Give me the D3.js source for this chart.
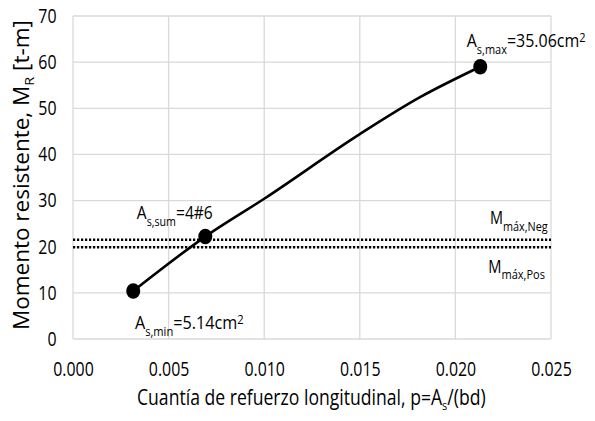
<!DOCTYPE html>
<html>
<head>
<meta charset="utf-8">
<script src="https://cdn.jsdelivr.net/npm/d3@7"></script>
<style>
  html, body { margin: 0; padding: 0; background: #fff; }
  svg { display: block; }
  text { font-family: "Open Sans", "Noto Sans", sans-serif; fill: #000; }
</style>
</head>
<body>
<svg id="chart" width="595" height="421"></svg>
<script>
// Resisting moment curve vs. longitudinal reinforcement ratio
const curveRho    = [0.00315, 0.00692, 0.0100, 0.0150, 0.01815, 0.0213];
const curveMoment = [10.4, 22.2, 30.4, 44.4, 52.4, 59.0];

// Highlighted steel areas
const markerLabels = ["As,min", "As,sum", "As,max"];
const markerRho    = [0.00315, 0.00692, 0.0213];
const markerMoment = [10.4, 22.2, 59.0];

// Demand moments (horizontal reference lines)
const demandNames  = ["Neg", "Pos"];
const demandValues = [21.5, 19.9];

const xTicks = [0, 0.005, 0.010, 0.015, 0.020, 0.025];
const yTicks = [0, 10, 20, 30, 40, 50, 60, 70];

const svg = d3.select("#chart");
const plotL = 73, plotR = 551, plotT = 16, plotB = 339;

const x = d3.scaleLinear().domain([0, 0.025]).range([plotL, plotR]);
const y = d3.scaleLinear().domain([0, 70]).range([plotB, plotT]);

// Gridlines
const grid = svg.append("g");
grid.selectAll("line.h").data(yTicks).join("line")
  .attr("x1", plotL).attr("x2", plotR)
  .attr("y1", d => y(d)).attr("y2", d => y(d))
  .attr("stroke", "#d9d9d9").attr("stroke-width", 1.3);
grid.selectAll("line.v").data(xTicks).join("line")
  .attr("y1", plotT).attr("y2", plotB)
  .attr("x1", d => x(d)).attr("x2", d => x(d))
  .attr("stroke", "#d9d9d9").attr("stroke-width", 1.3);

// Narrow lettering: text is squeezed horizontally to a given width
function label(px, py, parts, opt) {
  const g = svg.append("g")
    .attr("transform", `translate(${px},${py})` + (opt.rotate ? ` rotate(${opt.rotate})` : ""));
  const t = g.append("text").attr("font-size", opt.size);
  parts.forEach(p => {
    const s = t.append("tspan").text(p.t);
    if (p.size) s.attr("font-size", p.size);
    if (p.dy) s.attr("dy", p.dy);
  });
  const w = t.node().getBBox().width;
  const sx = opt.width ? opt.width / w : (opt.sx || 1);
  const off = opt.anchor === "end" ? -w : opt.anchor === "middle" ? -w / 2 : 0;
  t.attr("transform", `scale(${sx},1) translate(${off},0)`);
  return t;
}

// Tick labels share one horizontal squeeze
const probe = svg.append("text").attr("font-size", 20).text("0.000");
const tickSx = 40.5 / probe.node().getBBox().width;
probe.remove();

const xAxis = svg.append("g").attr("transform", `translate(0,${plotB})`)
  .call(d3.axisBottom(x).tickValues(xTicks).tickFormat(d3.format(".3f")).tickSize(0).tickPadding(0));
xAxis.selectAll("text").attr("font-size", 20).attr("font-family", null)
  .attr("dy", null).attr("y", 37).attr("transform", `scale(${tickSx},1)`);

const yAxis = svg.append("g").attr("transform", `translate(${plotL},0)`)
  .call(d3.axisLeft(y).tickValues(yTicks).tickSize(0).tickPadding(0));
yAxis.selectAll("text").attr("font-size", 20).attr("font-family", null)
  .attr("x", -16.5 / tickSx).attr("transform", `scale(${tickSx},1)`);
[xAxis, yAxis].forEach(a => a.select(".domain").remove());

// Demand moment lines
svg.append("g").selectAll("line").data(demandValues).join("line")
  .attr("x1", plotL).attr("x2", plotR)
  .attr("y1", d => y(d)).attr("y2", d => y(d))
  .attr("stroke", "#000").attr("stroke-width", 2.6)
  .attr("stroke-dasharray", "2.2,1.8");

// Capacity curve
svg.append("path")
  .datum(curveRho.map((r, i) => [r, curveMoment[i]]))
  .attr("fill", "none").attr("stroke", "#000").attr("stroke-width", 2.6)
  .attr("d", d3.line().x(d => x(d[0])).y(d => y(d[1])).curve(d3.curveMonotoneX));

// Markers
svg.append("g").selectAll("ellipse").data(markerRho).join("ellipse")
  .attr("cx", d => x(d)).attr("cy", (d, i) => y(markerMoment[i]))
  .attr("rx", 7).attr("ry", 7.8).attr("fill", "#000");

// Point annotations
label(x(markerRho[2]) - 13.5, y(markerMoment[2]) - 19.7,
  [{t: "A"}, {t: "s,max", size: 12, dy: 7}, {t: "=35.06cm", dy: -7}, {t: "2", size: 12, dy: -5}],
  {size: 17.5, width: 119});
label(x(markerRho[1]) - 68.5, y(markerMoment[1]) - 17.4,
  [{t: "A"}, {t: "s,sum", size: 12, dy: 7}, {t: "=4#6", dy: -7}],
  {size: 17.5, width: 76});
label(x(markerRho[0]) + 1.7, y(markerMoment[0]) + 38.3,
  [{t: "A"}, {t: "s,min", size: 12, dy: 7}, {t: "=5.14cm", dy: -7}, {t: "2", size: 12, dy: -5}],
  {size: 17.5, width: 109});

// Demand line labels
label(548.3, y(demandValues[0]) - 15.5,
  [{t: "M"}, {t: "máx,Neg", size: 13.5, dy: 6.7}], {size: 18, width: 58.3, anchor: "end"});
label(545, y(demandValues[1]) + 25.5,
  [{t: "M"}, {t: "máx,Pos", size: 13.5, dy: 6.7}], {size: 18, width: 56.7, anchor: "end"});

// Axis titles
label(311.5, 405,
  [{t: "Cuantía de refuerzo longitudinal, p=A"}, {t: "s", size: 13, dy: 5}, {t: "/(bd)", dy: -5}],
  {size: 21, width: 349, anchor: "middle"});
label(28.5, 175,
  [{t: "Momento resistente, M"}, {t: "R", size: 13.5, dy: 5}, {t: " [t-m]", dy: -5}],
  {size: 21, width: 310, anchor: "middle", rotate: -90});
</script>
</body>
</html>
